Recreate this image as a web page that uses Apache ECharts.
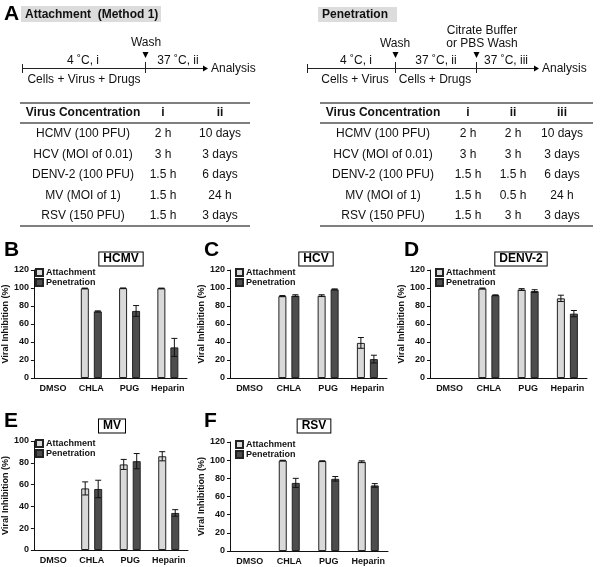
<!DOCTYPE html>
<html><head><meta charset="utf-8">
<script src="https://cdn.jsdelivr.net/npm/echarts@6/dist/echarts.min.js"></script>
<style>html,body{margin:0;padding:0;background:#fff}#c{width:600px;height:567px}</style>
</head><body><div id="c"></div>
<script>
// ---- data ----
var categories = ['DMSO', 'CHLA', 'PUG', 'Heparin'];
var panelNames = ['HCMV', 'HCV', 'DENV-2', 'MV', 'RSV'];
var panelLetters = ['B', 'C', 'D', 'E', 'F'];
var attachHCMV = [0, 99.6, 99.8, 99.6];   var attachErrHCMV = [0, 0.3, 0.2, 0.3];
var penHCMV    = [0, 74, 74.5, 34];       var penErrHCMV    = [0, 0.6, 6, 10];
var attachHCV  = [0, 91, 91.5, 39];       var attachErrHCV  = [0, 0.6, 1, 6];
var penHCV     = [0, 91.5, 98.5, 21];     var penErrHCV     = [0, 1, 0.5, 4.3];
var attachDENV = [0, 99.5, 98.3, 88.5];   var attachErrDENV = [0, 0.5, 1, 3.5];
var penDENV    = [0, 92, 96.6, 71.5];     var penErrDENV    = [0, 0.4, 1.5, 3.5];
var attachMV   = [0, 56.5, 78.5, 86];     var attachErrMV   = [0, 6, 4.6, 4.2];
var penMV      = [0, 56, 81.5, 34];       var penErrMV      = [0, 8, 7, 3];
var attachRSV  = [0, 99.6, 99, 98.3];     var attachErrRSV  = [0, 0.3, 0.3, 1];
var penRSV     = [0, 75, 79.5, 72.2];     var penErrRSV     = [0, 5, 2.5, 2];
var yMaxes = [120, 120, 120, 100, 120];
var tableHeader = ['Virus Concentration', 'i', 'ii', 'iii'];
var tableViruses = ['HCMV (100 PFU)', 'HCV (MOI of 0.01)', 'DENV-2 (100 PFU)', 'MV (MOI of 1)', 'RSV (150 PFU)'];
var colI   = ['2 h', '3 h', '1.5 h', '1.5 h', '1.5 h'];
var colIIAttach = ['10 days', '3 days', '6 days', '24 h', '3 days'];
var colIIPen = ['2 h', '3 h', '1.5 h', '0.5 h', '3 h'];
var colIIIPen = ['10 days', '3 days', '6 days', '24 h', '3 days'];

var attachAll = [attachHCMV, attachHCV, attachDENV, attachMV, attachRSV];
var attachErrAll = [attachErrHCMV, attachErrHCV, attachErrDENV, attachErrMV, attachErrRSV];
var penAll = [penHCMV, penHCV, penDENV, penMV, penRSV];
var penErrAll = [penErrHCMV, penErrHCV, penErrDENV, penErrMV, penErrRSV];

// ---- layout ----
var FONT = 'Liberation Sans, Arial, sans-serif';
var grids = [
  {left: 30, top: 270, width: 157, height: 108},
  {left: 230, top: 270, width: 157, height: 108},
  {left: 430, top: 270, width: 157, height: 108},
  {left: 30, top: 441, width: 158, height: 109},
  {left: 230, top: 442, width: 158, height: 109}
];
var letterPos = [[4, 240], [204, 240], [404, 240], [4, 411], [204, 411]];
var boxPos = [[121, 259], [316, 259], [521, 259], [112, 426], [314, 426]];
var BW = 8, GAP = 5, OFF = (BW + GAP) / 2;
var ATT_COLOR = '#d9d9d9', PEN_COLOR = '#4d4d4d';

function errRender(offset) {
  return function (params, api) {
    var x = api.value(0), v = api.value(1), e = api.value(2);
    if (!e) return null;
    var hi = api.coord([x, v + e]), lo = api.coord([x, v - e]);
    var cx = hi[0] + offset;
    var st = {stroke: '#111', lineWidth: 1};
    return {type: 'group', children: [
      {type: 'line', shape: {x1: cx, y1: hi[1], x2: cx, y2: lo[1]}, style: st},
      {type: 'line', shape: {x1: cx - 3, y1: hi[1], x2: cx + 3, y2: hi[1]}, style: st},
      {type: 'line', shape: {x1: cx - 3, y1: lo[1], x2: cx + 3, y2: lo[1]}, style: st}
    ]};
  };
}
function barData(arr) {
  return arr.map(function (v) { return v === 0 ? {value: 0, itemStyle: {borderWidth: 0}} : v; });
}

var xAxes = [], yAxes = [], series = [], legends = [], graphics = [];
grids.forEach(function (g, p) {
  xAxes.push({type: 'category', gridIndex: p, data: categories,
    axisLine: {lineStyle: {color: '#111', width: 1}}, axisTick: {show: false},
    axisLabel: {color: '#111', fontSize: 9, fontWeight: 'bold', fontFamily: FONT, margin: 6, interval: 0}});
  yAxes.push({type: 'value', gridIndex: p, min: 0, max: yMaxes[p], interval: 20,
    name: 'Viral Inhibition (%)', nameLocation: 'middle', nameGap: 19,
    nameTextStyle: {color: '#111', fontSize: 9, fontWeight: 'bold', fontFamily: FONT},
    axisLine: {show: true, lineStyle: {color: '#111', width: 1}},
    axisTick: {show: true, length: 3, lineStyle: {color: '#111'}},
    splitLine: {show: false},
    axisLabel: {color: '#111', fontSize: 9, fontWeight: 'bold', fontFamily: FONT, margin: 5}});
  series.push({name: 'Attachment', type: 'bar', xAxisIndex: p, yAxisIndex: p, data: barData(attachAll[p]),
    barWidth: BW, barGap: (GAP / BW * 100) + '%',
    itemStyle: {color: ATT_COLOR, borderColor: '#222', borderWidth: 1}});
  series.push({name: 'Penetration', type: 'bar', xAxisIndex: p, yAxisIndex: p, data: barData(penAll[p]),
    barWidth: BW, barGap: (GAP / BW * 100) + '%',
    itemStyle: {color: PEN_COLOR, borderColor: '#222', borderWidth: 1}});
  series.push({type: 'custom', xAxisIndex: p, yAxisIndex: p, renderItem: errRender(-OFF), z: 5,
    encode: {x: 0, y: 1},
    data: categories.map(function (c, i) { return [i, attachAll[p][i], attachErrAll[p][i]]; })});
  series.push({type: 'custom', xAxisIndex: p, yAxisIndex: p, renderItem: errRender(OFF), z: 5,
    encode: {x: 0, y: 1},
    data: categories.map(function (c, i) { return [i, penAll[p][i], penErrAll[p][i]]; })});
  legends.push({data: ['Attachment', 'Penetration'], orient: 'vertical', left: g.left + 5, top: g.top - 2,
    padding: 0, itemWidth: 7, itemHeight: 7, itemGap: 1, icon: 'rect', selectedMode: false,
    textStyle: {color: '#111', fontSize: 9, fontWeight: 'bold', fontFamily: FONT, lineHeight: 9, padding: [0, 0, 0, -2]}});
  graphics.push({type: 'text', left: letterPos[p][0], top: letterPos[p][1],
    style: {text: panelLetters[p], fill: '#000', font: 'bold 21px ' + FONT}});
  graphics.push({type: 'text', x: boxPos[p][0], y: boxPos[p][1],
    style: {text: panelNames[p], fill: '#000', font: 'bold 12px ' + FONT, align: 'center', verticalAlign: 'middle',
      borderColor: '#000', borderWidth: 1, padding: [1, 4, 0, 4], backgroundColor: '#fff'}});
});

// ---- Top section (A) ----
function txt(x, y, s, opt) {
  opt = opt || {};
  return {type: 'text', x: x, y: y, style: {text: s, fill: '#111', font: (opt.bold ? 'bold ' : '') + (opt.size || 12) + 'px ' + FONT,
    align: opt.align || 'center', verticalAlign: 'middle'}};
}
function ln(x1, y1, x2, y2, w, c) {
  return {type: 'line', shape: {x1: x1, y1: y1, x2: x2, y2: y2}, style: {stroke: c || '#222', lineWidth: w || 1}};
}
function tri(x, y) {
  return {type: 'polygon', shape: {points: [[x - 3, y - 3], [x + 3, y - 3], [x, y + 3]]}, style: {fill: '#000'}};
}
function arrow(x, y) {
  return {type: 'polygon', shape: {points: [[x, y], [x - 5, y - 3], [x - 5, y + 3]]}, style: {fill: '#000'}};
}
graphics.push({type: 'text', left: 4, top: 4, style: {text: 'A', fill: '#000', font: 'bold 21px ' + FONT}});
graphics.push({type: 'rect', shape: {x: 21, y: 6, width: 140, height: 16}, style: {fill: '#dcdcdc'}});
graphics.push(txt(25, 14.5, 'Attachment  (Method 1)', {bold: true, size: 12, align: 'left'}));
graphics.push({type: 'rect', shape: {x: 318, y: 7, width: 79, height: 15}, style: {fill: '#dcdcdc'}});
graphics.push(txt(322, 14.5, 'Penetration', {bold: true, size: 12, align: 'left'}));

// left timeline
graphics.push(ln(22, 68.5, 204, 68.5, 1));
graphics.push(ln(22.5, 64, 22.5, 73, 1));
graphics.push(ln(145.5, 62, 145.5, 73, 1));
graphics.push(arrow(208, 68.5));
graphics.push(tri(145.5, 55));
graphics.push(txt(146, 43, 'Wash'));
graphics.push(txt(83, 61, '4 \u02daC, i'));
graphics.push(txt(178, 61, '37 \u02daC, ii'));
graphics.push(txt(84, 80, 'Cells + Virus + Drugs'));
graphics.push(txt(211, 69, 'Analysis', {align: 'left'}));

// right timeline
graphics.push(ln(307, 68.5, 535, 68.5, 1));
graphics.push(ln(307.5, 64, 307.5, 73, 1));
graphics.push(ln(395.5, 62, 395.5, 73, 1));
graphics.push(ln(476.5, 62, 476.5, 73, 1));
graphics.push(arrow(539, 68.5));
graphics.push(tri(395.5, 55));
graphics.push(tri(476.5, 55));
graphics.push(txt(395, 44, 'Wash'));
graphics.push(txt(482, 31, 'Citrate Buffer'));
graphics.push(txt(482, 44, 'or PBS Wash'));
graphics.push(txt(356, 61, '4 \u02daC, i'));
graphics.push(txt(436, 61, '37 \u02daC, ii'));
graphics.push(txt(506, 61, '37 \u02daC, iii'));
graphics.push(txt(355, 80, 'Cells + Virus'));
graphics.push(txt(435, 80, 'Cells + Drugs'));
graphics.push(txt(542, 69, 'Analysis', {align: 'left'}));

// tables
var rowY = [134, 154.5, 175, 195.5, 216];
function table(x0, x1, colX, cols, ncol) {
  graphics.push(ln(x0, 103, x1, 103, 1.3, '#555'));
  graphics.push(ln(x0, 123, x1, 123, 1.3, '#555'));
  graphics.push(ln(x0, 226, x1, 226, 1.3, '#555'));
  for (var c = 0; c < ncol; c++) graphics.push(txt(colX[c], 113, tableHeader[c], {bold: true}));
  rowY.forEach(function (y, r) {
    for (var c = 0; c < ncol; c++) graphics.push(txt(colX[c], y, cols[c][r]));
  });
}
table(20, 250, [83, 163, 220], [tableViruses, colI, colIIAttach], 3);
table(320, 593, [383, 468, 513, 562], [tableViruses, colI, colIIPen, colIIIPen], 4);

var chart = echarts.init(document.getElementById('c'), null, {renderer: 'canvas'});
chart.setOption({
  animation: false,
  backgroundColor: '#fff',
  grid: grids,
  xAxis: xAxes,
  yAxis: yAxes,
  legend: legends,
  series: series,
  graphic: graphics
});
</script></body></html>
